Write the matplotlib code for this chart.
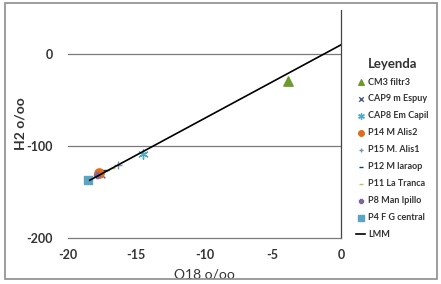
import matplotlib.pyplot as plt
import matplotlib.patches as patches

plt.rcParams['font.family'] = ['Lato', 'DejaVu Sans']

# Muestras: O18 (o/oo) y H2 (o/oo)
labels = ['CM3 filtr3', 'CAP9 m Espuy', 'CAP8 Em Capil', 'P14 M Alis2', 'P15 M. Alis1',
          'P12 M laraop', 'P11 La Tranca', 'P8 Man Ipillo', 'P4 F G central']
o18 = [-3.9, -17.6, -14.5, -17.7, -16.3, -17.2, -16.8, -17.9, -18.5]
h2 = [-29, -130, -109, -129, -121, -126, -124, -131, -137]

# Linea meteorica mundial (LMM)
lmm_x = [-18.4, 0]
lmm_y = [-137.2, 10]

markers = ['^', 'x', (6, 2, 0), 'o', '+', '_', '_', 'P', 's']
colors = ['#6e9a2c', '#4a5a8c', '#4bacc6', '#e36c1a', '#7f8fa8',
          '#1f3864', '#b5c46a', '#8064a2', '#5aa4c4']
sizes = [45, 30, 45, 45, 30, 20, 20, 25, 40]

fig = plt.figure(figsize=(4.41, 2.84), dpi=100)
ax = fig.add_axes([0.154, 0.162, 0.619, 0.803])

for lab, x, y, m, c, s in zip(labels, o18, h2, markers, colors, sizes):
    ax.scatter([x], [y], marker=m, color=c, s=s, label=lab, zorder=3, linewidths=1)

ax.plot(lmm_x, lmm_y, color='black', lw=1.2, label='LMM', zorder=4)

ax.set_xlim(-20, 0)
ax.set_ylim(-200, 48)
ax.set_xticks([-20, -15, -10, -5, 0])
ax.set_yticks([0, -100, -200])
ax.set_xticklabels(['-20', '-15', '-10', '-5', '0'])
ax.set_yticklabels(['0', '-100', '-200'])
ax.tick_params(length=0, labelsize=9, colors='#333333')
ax.tick_params(axis='x', pad=8)
ax.tick_params(axis='y', pad=11)
for t in ax.get_xticklabels() + ax.get_yticklabels():
    t.set_fontweight('bold')

for yv in [0, -100]:
    ax.axhline(yv, color='#7a7a7a', lw=0.9, zorder=1)

for side in ['top', 'left']:
    ax.spines[side].set_visible(False)
ax.spines['bottom'].set_color('#7a7a7a')
ax.spines['right'].set_color('#444444')
ax.spines['bottom'].set_linewidth(0.9)
ax.spines['right'].set_linewidth(0.9)

ax.set_xlabel('O18 o/oo', fontsize=10, color='#333333', labelpad=5)
ax.set_ylabel('H2 o/oo', fontsize=10, color='#333333', fontweight='bold', labelpad=0)

leg = fig.legend(loc='upper left', bbox_to_anchor=(0.8, 0.81), frameon=False,
                 title='Leyenda', fontsize=6.5, title_fontsize=9.5,
                 labelspacing=0.88, handlelength=1.0, handletextpad=0.3,
                 markerscale=0.6, borderaxespad=0)
for t in leg.get_texts():
    t.set_fontweight('bold')
    t.set_color('#333333')
leg.get_title().set_color('#333333')
leg.get_title().set_fontweight('bold')

fig.patches.append(patches.Rectangle((0.012, 0.018), 0.978, 0.97, transform=fig.transFigure,
                                     fill=False, edgecolor='#8c8c8c', lw=1.2))

fig.savefig('out.png', dpi=100)
